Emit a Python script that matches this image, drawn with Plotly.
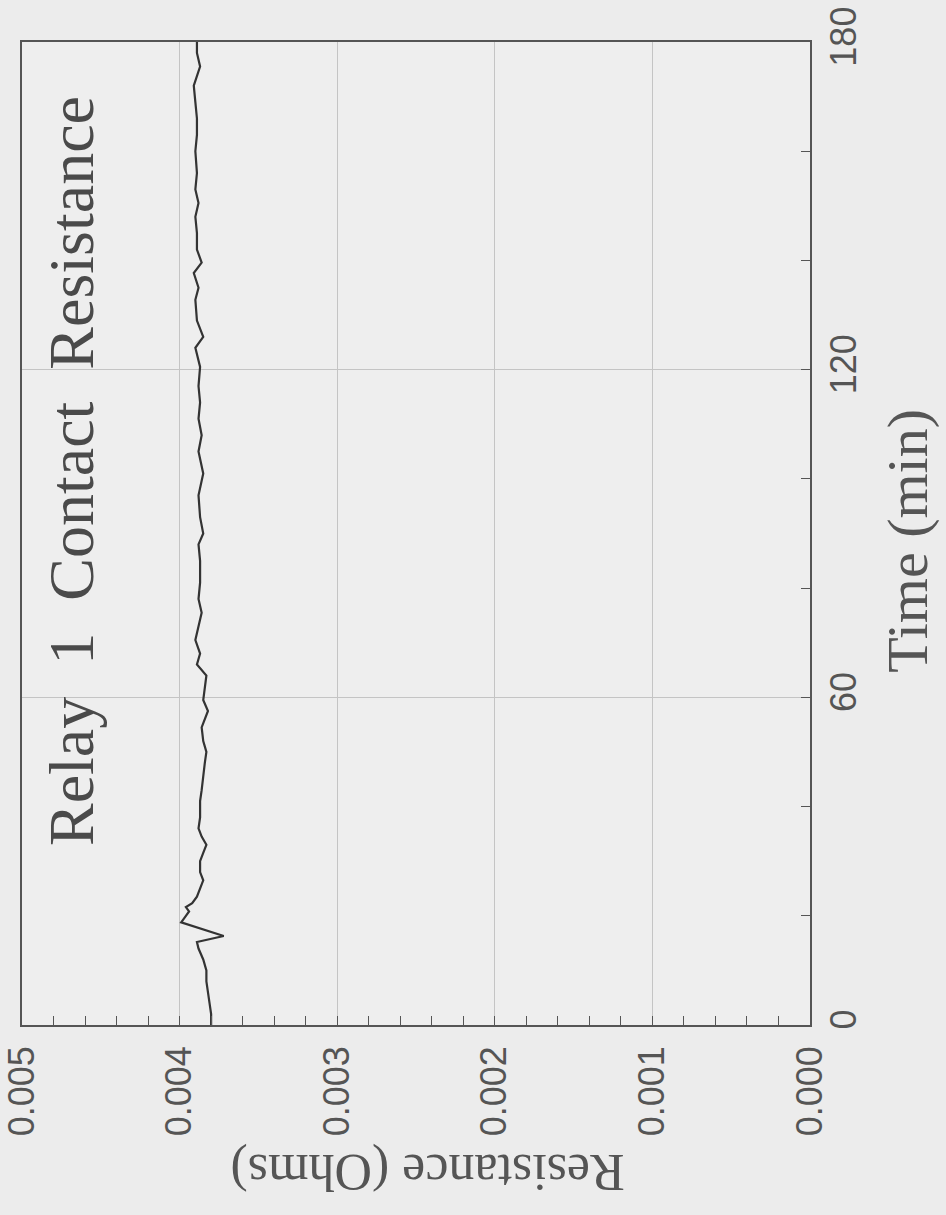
import plotly.graph_objects as go

# ---- data ----
time_min = [0, 2, 4, 6, 8, 10, 12, 14, 15.2, 16.3, 18.8, 20, 20.8, 21.6, 22.3, 23.5, 25, 26.5,
            28, 30, 31.5, 33, 34.5, 36, 38, 41, 43, 46, 48, 50, 52, 54.5, 57.5, 59.5, 62, 64,
            66, 68, 70.5, 73, 75.5, 78, 81, 85, 88, 90, 93, 97, 101, 105, 108, 111, 114, 117,
            120.5, 124, 126, 129, 132.8, 135, 137.7, 139.6, 142, 145, 148, 150.5, 153, 156,
            160, 163, 166, 169, 172, 175.5, 178, 180]
resistance_ohm = [0.00380, 0.00380, 0.00381, 0.00382, 0.00383, 0.00383, 0.00385, 0.00388,
                  0.00389, 0.00372, 0.00399, 0.00396, 0.00394, 0.00396, 0.00392, 0.00389,
                  0.00387, 0.00385, 0.00387, 0.00387, 0.00385, 0.00383, 0.00386, 0.00388,
                  0.00387, 0.00387, 0.00386, 0.00385, 0.00384, 0.00383, 0.00385, 0.00386,
                  0.00382, 0.00385, 0.00384, 0.00383, 0.00389, 0.00387, 0.00390, 0.00388,
                  0.00386, 0.00388, 0.00387, 0.00387, 0.00388, 0.00385, 0.00387, 0.00388,
                  0.00385, 0.00388, 0.00386, 0.00388, 0.00387, 0.00388, 0.00387, 0.00390,
                  0.00385, 0.00389, 0.00390, 0.00388, 0.00391, 0.00386, 0.00389, 0.00389,
                  0.00390, 0.00388, 0.00390, 0.00389, 0.00390, 0.00389, 0.00389, 0.00390,
                  0.00391, 0.00387, 0.00389, 0.00389]

res_ticks = [0.000, 0.001, 0.002, 0.003, 0.004, 0.005]
res_ticklabels = ["0.000", "0.001", "0.002", "0.003", "0.004", "0.005"]
time_ticks = [0, 60, 120, 180]
time_ticklabels = ["0", "60", "120", "180"]

title_text = "Relay\u00a0 1\u00a0 Contact\u00a0 Resistance"
x_title = "Resistance (Ohms)"
y_title = "Time (min)"

GRID = "#c4c4c4"
BG = "#ececec"
AX = "#555555"

fig = go.Figure()
fig.add_trace(go.Scatter(
    x=resistance_ohm, y=time_min, mode="lines",
    line=dict(color="#333333", width=2.2), showlegend=False, hoverinfo="skip"))

fig.update_layout(
    width=946, height=1215,
    margin=dict(l=22, r=136, t=42, b=190),
    paper_bgcolor=BG, plot_bgcolor="#eeeeee",
    font=dict(family="Liberation Sans", color=AX),
    xaxis=dict(
        range=[0.005, 0.0], tickvals=res_ticks, ticktext=res_ticklabels,
        tickangle=-90, tickfont=dict(family="Liberation Sans", size=36, color=AX),
        ticks="inside", ticklen=9, tickcolor=AX, tickwidth=1.2,
        minor=dict(dtick=0.0002, tick0=0, ticks="inside", ticklen=9, tickcolor=AX,
                   tickwidth=1.2, showgrid=False),
        showgrid=True, gridcolor=GRID, gridwidth=1,
        showline=True, linecolor=AX, linewidth=1.6, mirror=True,
        zeroline=False, ticklabelstandoff=5, fixedrange=True, automargin=False),
    yaxis=dict(
        range=[0, 180], side="right", tickvals=time_ticks, ticktext=time_ticklabels,
        tickangle=-90, tickfont=dict(family="Liberation Sans", size=36, color=AX),
        ticks="inside", ticklen=9, tickcolor=AX, tickwidth=1.2,
        minor=dict(dtick=20, tick0=0, ticks="inside", ticklen=9, tickcolor=AX,
                   tickwidth=1.2, showgrid=False),
        showgrid=True, gridcolor=GRID, gridwidth=1,
        showline=True, linecolor=AX, linewidth=1.6, mirror=True,
        zeroline=False, ticklabelstandoff=1, fixedrange=True, automargin=False),
    annotations=[
        dict(text=title_text, xref="paper", yref="paper", x=0.0635, y=0.5636,
             xanchor="center", yanchor="middle", textangle=-90, showarrow=False,
             font=dict(family="Liberation Serif", size=64, color="#4a4a4a")),
        dict(text=x_title, xref="paper", yref="paper", x=0.515, y=-0.1495,
             xanchor="center", yanchor="middle", textangle=180, showarrow=False,
             font=dict(family="Liberation Serif", size=52, color=AX)),
        dict(text=y_title, xref="paper", yref="paper", x=1.124, y=0.4924,
             xanchor="center", yanchor="middle", textangle=-90, showarrow=False,
             font=dict(family="Liberation Serif", size=58, color=AX)),
    ],
)

fig.write_html("out.html", config={"displayModeBar": False},
               post_script="document.body.style.margin='0';document.body.style.overflow='hidden';")
